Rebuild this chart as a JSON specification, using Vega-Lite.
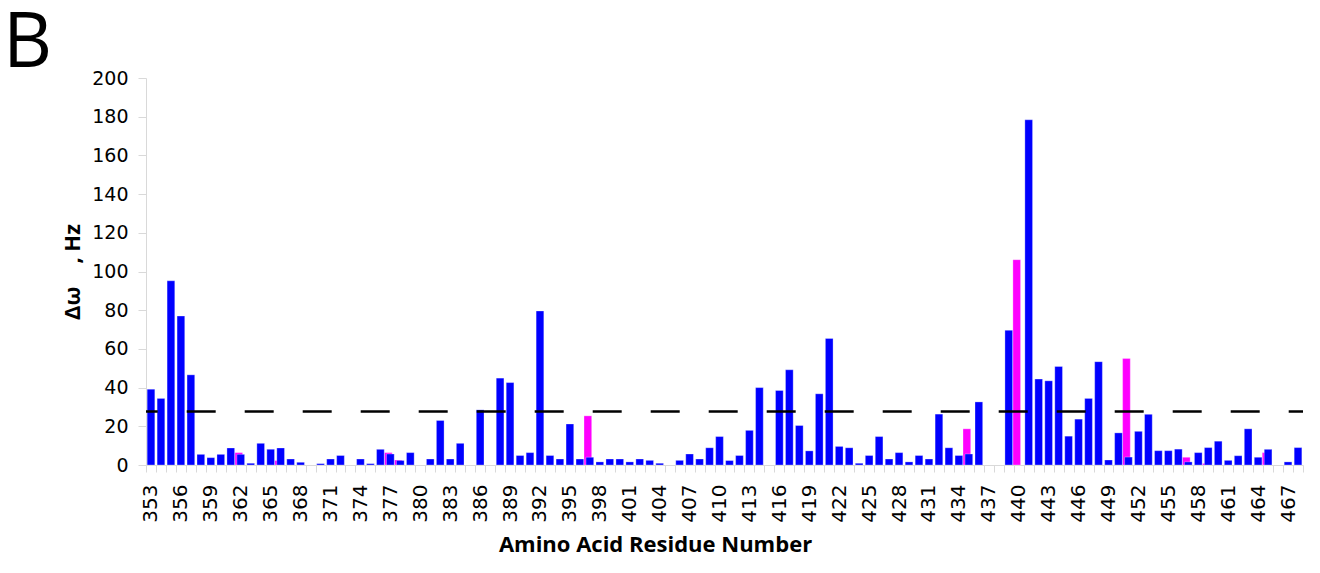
{
  "$schema": "https://vega.github.io/schema/vega-lite/v6.json",
  "width": 1157,
  "height": 387,
  "autosize": {"type": "none"},
  "padding": {"left": 146, "top": 78, "right": 17, "bottom": 108},
  "background": "white",
  "config": {"view": {"stroke": null}, "font": "Open Sans"},
  "title": {"text": "B", "anchor": "start", "frame": "group", "fontSize": 76, "fontWeight": "normal", "font": "Open Sans", "color": "black", "baseline": "alphabetic", "offset": -74, "dx": -143},
  "data": {"values": [
    {"r":353,"b":39.2},{"r":354,"b":34.4},{"r":355,"b":95.2},{"r":356,"b":77.0},{"r":357,"b":46.6},
    {"r":358,"b":5.5},{"r":359,"b":3.8},{"r":360,"b":5.5},{"r":361,"b":8.8},{"r":362,"b":5.5,"m":6.4},
    {"r":363,"b":0.9},{"r":364,"b":11.2},{"r":365,"b":8.1},{"r":366,"b":8.8,"m":2.3},{"r":367,"b":3.1},
    {"r":368,"b":1.4},{"r":370,"b":0.7},{"r":371,"b":3.1},{"r":372,"b":4.9},
    {"r":374,"b":3.1},{"r":375,"b":0.7},{"r":376,"b":8.1},{"r":377,"b":5.7,"m":6.4},{"r":378,"b":2.3,"m":2.6},
    {"r":379,"b":6.4},{"r":381,"b":3.1},{"r":382,"b":23.0},{"r":383,"b":3.1},{"r":384,"b":11.2},
    {"r":386,"b":28.5},{"r":388,"b":44.9},{"r":389,"b":42.6},{"r":390,"b":4.9},{"r":391,"b":6.4},
    {"r":392,"b":79.6},{"r":393,"b":4.9},{"r":394,"b":3.1},{"r":395,"b":21.2},{"r":396,"b":3.1},
    {"r":397,"b":4.0,"m":25.4},{"r":398,"b":1.6},{"r":399,"b":3.1},{"r":400,"b":3.1},{"r":401,"b":1.6},
    {"r":402,"b":3.1},{"r":403,"b":2.4},{"r":404,"b":0.9},{"r":406,"b":2.4},{"r":407,"b":5.7},
    {"r":408,"b":3.1},{"r":409,"b":8.9},{"r":410,"b":14.7},{"r":411,"b":2.3},{"r":412,"b":4.9},
    {"r":413,"b":17.9},{"r":414,"b":40.0},{"r":416,"b":38.5},{"r":417,"b":49.2},{"r":418,"b":20.4},
    {"r":419,"b":7.3},{"r":420,"b":36.8},{"r":421,"b":65.4},{"r":422,"b":9.6},{"r":423,"b":8.9},
    {"r":424,"b":0.9},{"r":425,"b":4.9},{"r":426,"b":14.7},{"r":427,"b":3.1},{"r":428,"b":6.4},
    {"r":429,"b":1.6},{"r":430,"b":4.9},{"r":431,"b":3.1},{"r":432,"b":26.3},{"r":433,"b":8.9},
    {"r":434,"b":4.9},{"r":435,"b":5.7,"m":18.7},{"r":436,"b":32.6},{"r":439,"b":69.6},{"r":440,"m":106.1},
    {"r":441,"b":178.4},{"r":442,"b":44.4},{"r":443,"b":43.5},{"r":444,"b":50.9},{"r":445,"b":14.9},
    {"r":446,"b":23.7},{"r":447,"b":34.4},{"r":448,"b":53.4},{"r":449,"b":2.6},{"r":450,"b":16.6},
    {"r":451,"b":4.1,"m":55.1},{"r":452,"b":17.4},{"r":453,"b":26.2},{"r":454,"b":7.4},{"r":455,"b":7.4},
    {"r":456,"b":8.2},{"r":457,"b":1.6,"m":4.0},{"r":458,"b":6.4},{"r":459,"b":9.0,"m":0.8},{"r":460,"b":12.3},
    {"r":461,"b":2.4},{"r":462,"b":4.8},{"r":463,"b":18.7},{"r":464,"b":4.0},{"r":465,"b":8.1,"m":6.4},
    {"r":467,"b":1.6},{"r":468,"b":9.0}
  ]},
  "layer": [
    {
      "mark": {"type": "bar", "color": "#ff00ff", "width": {"band": 0.77}, "xOffset": -2, "stroke": "white", "strokeWidth": 0.5, "strokeOpacity": 0.6},
      "encoding": {
        "x": {"field": "r", "type": "ordinal",
          "scale": {"domain": [353,354,355,356,357,358,359,360,361,362,363,364,365,366,367,368,369,370,371,372,373,374,375,376,377,378,379,380,381,382,383,384,385,386,387,388,389,390,391,392,393,394,395,396,397,398,399,400,401,402,403,404,405,406,407,408,409,410,411,412,413,414,415,416,417,418,419,420,421,422,423,424,425,426,427,428,429,430,431,432,433,434,435,436,437,438,439,440,441,442,443,444,445,446,447,448,449,450,451,452,453,454,455,456,457,458,459,460,461,462,463,464,465,466,467,468], "paddingInner": 0, "paddingOuter": 0},
          "axis": {"labelExpr": "(datum.value - 353) % 3 === 0 ? datum.label : ''", "labelAngle": -90, "labelFont": "DejaVu Sans", "labelFontSize": 20, "labelPadding": 12, "labelOverlap": false, "labelColor": "black", "tickBand": "extent", "tickSize": 7, "tickColor": "#d9d9d9", "domainColor": "#d9d9d9", "title": "Amino Acid Residue Number", "titleFontSize": 22, "titleFontWeight": "bold", "titleColor": "black", "titlePadding": 12, "titleX": 509}},
        "y": {"field": "m", "type": "quantitative", "scale": {"domain": [0, 200], "nice": false},
          "axis": {"tickCount": 11, "labelOverlap": false, "labelSeparation": 0, "grid": false, "domainColor": "#d9d9d9", "tickColor": "#d9d9d9", "tickSize": 8, "labelFont": "DejaVu Sans", "labelFontSize": 19, "labelPadding": 10, "labelColor": "black", "title": "Δω\u00a0\u00a0\u00a0\u00a0, Hz", "titleFontSize": 22, "titleFontWeight": "bold", "titleColor": "black", "titlePadding": 7}}
      }
    },
    {
      "mark": {"type": "bar", "color": "#0000ff", "width": {"band": 0.77}, "stroke": "white", "strokeWidth": 0.5, "strokeOpacity": 0.6},
      "encoding": {
        "x": {"field": "r", "type": "ordinal"},
        "y": {"field": "b", "type": "quantitative"}
      }
    },
    {
      "data": {"values": [{"t": 27.6}]},
      "mark": {"type": "rule", "color": "black", "strokeWidth": 2.5, "strokeDash": [29, 29], "strokeDashOffset": 14.7},
      "encoding": {"y": {"field": "t", "type": "quantitative"}}
    }
  ]
}
